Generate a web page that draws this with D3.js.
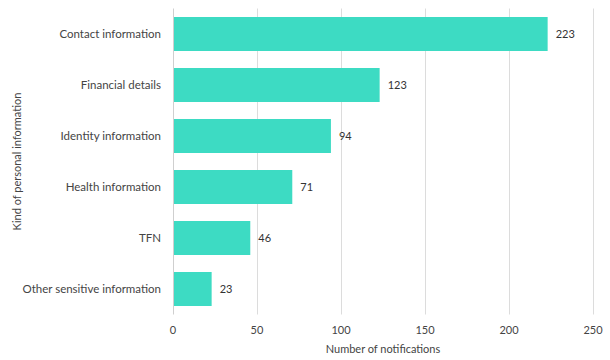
<!DOCTYPE html>
<html><head><meta charset="utf-8">
<script src="https://cdn.jsdelivr.net/npm/d3@7"></script>
<style>body{margin:0;background:#fff}svg{display:block;font-family:Lato,"Open Sans",sans-serif}</style>
</head><body><svg id="c" width="610" height="360"></svg>
<script>
const categories = ["Contact information","Financial details","Identity information","Health information","TFN","Other sensitive information"];
const values = [223,123,94,71,46,23];
const xTicks = [0,50,100,150,200,250];

const svg = d3.select("#c");
const m = {l:173, r:17, t:8.5, b:45.5};
const W = 610, H = 360;
const x = d3.scaleLinear().domain([0,250]).range([m.l, W-m.r]);
const y = d3.scaleBand().domain(categories).range([m.t, H-m.b]).paddingInner(1/3).paddingOuter(1/6);

// grid
svg.append("g").selectAll("line").data(xTicks.slice(1)).join("line")
  .attr("x1",d=>Math.round(x(d))+0.5).attr("x2",d=>Math.round(x(d))+0.5)
  .attr("y1",m.t).attr("y2",H-m.b).attr("stroke","#dcdcdc").attr("stroke-width",1);

// bars
svg.append("g").selectAll("rect").data(values).join("rect")
  .attr("x",x(0)).attr("y",(d,i)=>y(categories[i])).attr("height",y.bandwidth())
  .attr("width",d=>x(d)-x(0)).attr("fill","#3ddbc3");

// value labels
svg.append("g").selectAll("text").data(values).join("text")
  .attr("x",d=>x(d)+8).attr("y",(d,i)=>y(categories[i])+y.bandwidth()/2)
  .attr("dy","0.35em").attr("font-size",11).attr("fill","#333").text(d=>d);

// y axis line
svg.append("line").attr("x1",Math.round(x(0))+0.5).attr("x2",Math.round(x(0))+0.5)
  .attr("y1",m.t).attr("y2",H-m.b).attr("stroke","#cfcfcf");

// y tick labels
svg.append("g").selectAll("text").data(categories).join("text")
  .attr("x",161).attr("y",d=>y(d)+y.bandwidth()/2).attr("dy","0.35em")
  .attr("text-anchor","end").attr("font-size",11.5).attr("fill","#444").text(d=>d);

// x tick labels
svg.append("g").selectAll("text").data(xTicks).join("text")
  .attr("x",d=>x(d)).attr("y",330).attr("dy","0.35em").attr("text-anchor","middle")
  .attr("font-size",11).attr("fill","#444").text(d=>d);

// axis titles
svg.append("text").attr("x",(x(0)+x(250))/2).attr("y",349).attr("dy","0.35em")
  .attr("text-anchor","middle").attr("font-size",11).attr("fill","#444").text("Number of notifications");
svg.append("text").attr("transform",`translate(17,${(m.t+H-m.b)/2}) rotate(-90)`).attr("dy","0.35em")
  .attr("text-anchor","middle").attr("font-size",11).attr("fill","#444").text("Kind of personal information");
</script></body></html>
